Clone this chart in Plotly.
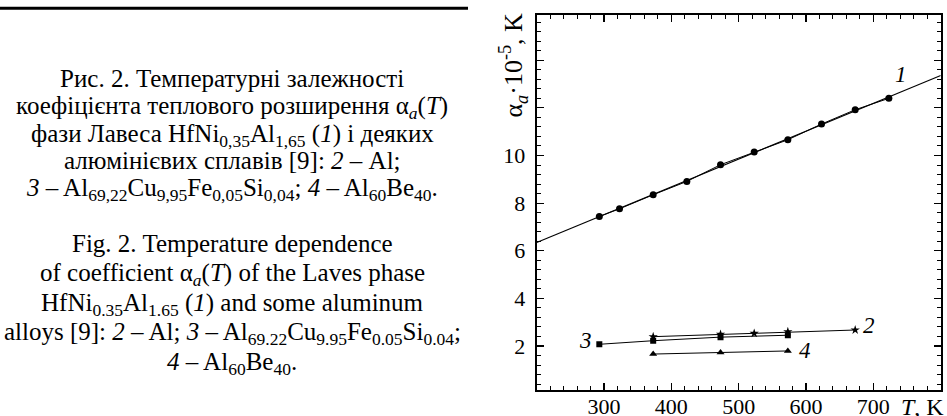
import numpy as np
import plotly.graph_objects as go

# ---- data ----
T1 = [293, 323, 373, 423, 473, 523, 573, 623, 673, 723]
a1 = [7.44, 7.76, 8.35, 8.91, 9.61, 10.15, 10.66, 11.32, 11.92, 12.40]
T2 = [373, 473, 523, 573, 673]
a2 = [2.39, 2.49, 2.53, 2.60, 2.67]
T3 = [293, 373, 473, 573]
a3 = [2.07, 2.22, 2.37, 2.45]
T4 = [373, 473, 573]
a4 = [1.66, 1.73, 1.79]

x_range = [200, 800]
y_range = [0.15, 15.9]
x_tickvals = [300, 400, 500, 600, 700]
x_ticktext = ["300", "400", "500", "600", "700"]
y_tickvals = [2, 4, 6, 8, 10, 12, 14]
y_ticktext = ["2", "4", "6", "8", "10", "", ""]

curve_labels = ["<i>1</i>", "<i>2</i>", "<i>3</i>", "<i>4</i>"]
curve_label_T = [741, 694, 273, 598]
curve_label_a = [13.39, 2.88, 2.25, 1.83]

caption_ua = [
    "Рис. 2. Температурні залежності",
    "коефіцієнта теплового розширення α<sub><i>a</i></sub>(<i>T</i>)",
    "фази Лавеса HfNi<sub>0,35</sub>Al<sub>1,65</sub> (<i>1</i>) і деяких",
    "алюмінієвих сплавів [9]: <i>2</i> – Al;",
    "<i>3</i> – Al<sub>69,22</sub>Cu<sub>9,95</sub>Fe<sub>0,05</sub>Si<sub>0,04</sub>; <i>4</i> – Al<sub>60</sub>Be<sub>40</sub>.",
]
caption_en = [
    "Fig. 2. Temperature dependence",
    "of coefficient α<sub><i>a</i></sub>(<i>T</i>) of the Laves phase",
    "HfNi<sub>0.35</sub>Al<sub>1.65</sub> (<i>1</i>) and some aluminum",
    "alloys [9]: <i>2</i> – Al; <i>3</i> – Al<sub>69.22</sub>Cu<sub>9.95</sub>Fe<sub>0.05</sub>Si<sub>0.04</sub>;",
    "<i>4</i> – Al<sub>60</sub>Be<sub>40</sub>.",
]

W, H = 947, 416
FONT = "Liberation Serif"

fig = go.Figure()

# linear fit for curve 1 over the whole axis range
k, b = np.polyfit(T1, a1, 1)
xf = np.array(x_range, dtype=float)
fig.add_trace(go.Scatter(x=xf, y=k * xf + b, mode="lines",
                         line=dict(color="black", width=1.1), hoverinfo="skip"))

fig.add_trace(go.Scatter(x=T1, y=a1, mode="lines+markers",
                         line=dict(color="black", width=1),
                         marker=dict(symbol="circle", size=7, color="black")))
fig.add_trace(go.Scatter(x=T2, y=a2, mode="lines+markers",
                         line=dict(color="black", width=1),
                         marker=dict(symbol="star", size=7, color="black")))
fig.add_trace(go.Scatter(x=T3, y=a3, mode="lines+markers",
                         line=dict(color="black", width=1),
                         marker=dict(symbol="square", size=6, color="black")))
fig.add_trace(go.Scatter(x=T4, y=a4, mode="lines+markers",
                         line=dict(color="black", width=1),
                         marker=dict(symbol="triangle-up", size=7, color="black")))

for txt, tx, ty in zip(curve_labels, curve_label_T, curve_label_a):
    fig.add_annotation(x=tx, y=ty, xref="x", yref="y", text=txt, showarrow=False,
                       font=dict(family=FONT, size=23, color="black"))

# captions
cx = 232 / W
for i, line in enumerate(caption_ua):
    fig.add_annotation(x=cx, y=1 - (63 + 27.3 * i) / H, xref="paper", yref="paper",
                       text=line, showarrow=False, xanchor="center", yanchor="top",
                       font=dict(family=FONT, size=25, color="black"))
for i, line in enumerate(caption_en):
    fig.add_annotation(x=cx, y=1 - (228 + 29.4 * i) / H, xref="paper", yref="paper",
                       text=line, showarrow=False, xanchor="center", yanchor="top",
                       font=dict(family=FONT, size=25, color="black"))

# axis titles
fig.add_annotation(x=513 / W, y=1 - 11 / H, xref="paper", yref="paper",
                   text="α<sub><i>a</i></sub>·10<sup>-5</sup>, K", textangle=-90,
                   showarrow=False, xanchor="center", yanchor="top",
                   font=dict(family=FONT, size=26, color="black"))
fig.add_annotation(x=946 / W, y=1 - 407 / H, xref="paper", yref="paper",
                   text="<i>T</i>, K", showarrow=False, xanchor="right", yanchor="middle",
                   font=dict(family=FONT, size=24, color="black"))

# rule at top-left
fig.add_shape(type="line", xref="paper", yref="paper",
              x0=0, x1=468 / W, y0=1 - 8.3 / H, y1=1 - 8.3 / H,
              line=dict(color="black", width=3))

axis_common = dict(showgrid=False, zeroline=False, showline=True, linecolor="black",
                   linewidth=2, mirror="allticks", ticks="inside", ticklen=7,
                   tickwidth=1.2, tickcolor="black", automargin=False,
                   tickfont=dict(family=FONT, size=22, color="black"))

fig.update_xaxes(range=x_range, domain=[536.7 / W, 940.7 / W],
                 tickmode="array", tickvals=x_tickvals, ticktext=x_ticktext,
                 ticklabelstandoff=-4,
                 minor=dict(ticks="inside", ticklen=4, tick0=200, dtick=20,
                            tickcolor="black", tickwidth=1),
                 **axis_common)
fig.update_yaxes(range=y_range, domain=[1 - 390 / H, 1 - 15 / H],
                 tickmode="array", tickvals=y_tickvals, ticktext=y_ticktext,
                 ticklabelstandoff=5,
                 minor=dict(ticks="inside", ticklen=4, tick0=0, dtick=0.4,
                            tickcolor="black", tickwidth=1),
                 **axis_common)

fig.update_layout(width=W, height=H, margin=dict(l=0, r=0, t=0, b=0),
                  template="none",
                  plot_bgcolor="white", paper_bgcolor="white", showlegend=False,
                  font=dict(family=FONT, color="black"))

fig.write_html("out.html", config={"displayModeBar": False, "staticPlot": True},
               post_script="document.body.style.margin='0px';document.body.style.overflow='hidden';")
